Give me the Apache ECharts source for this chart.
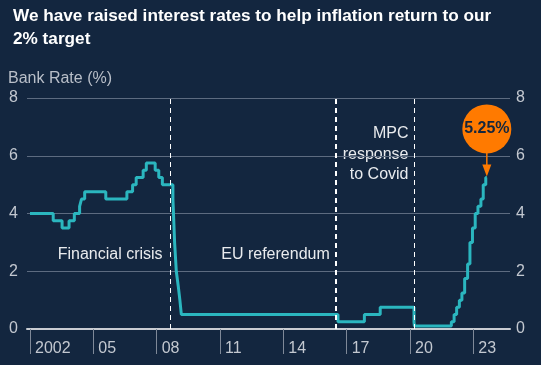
<!DOCTYPE html>
<html>
<head>
<meta charset="utf-8">
<script src="https://cdn.jsdelivr.net/npm/echarts@6/dist/echarts.min.js"></script>
<style>
html,body{margin:0;padding:0;background:#13263f;}
#chart{width:541px;height:365px;}
</style>
</head>
<body>
<div id="chart"></div>
<script>
// Bank Rate change dates (decimal years) and new rate (%)
var rateDates = [2002.00, 2003.10, 2003.52, 2003.85, 2004.10, 2004.35, 2004.44, 2004.59,
  2005.59, 2006.59, 2006.86, 2007.03, 2007.36, 2007.51, 2007.93, 2008.10, 2008.27,
  2008.77, 2008.85, 2008.93, 2009.02, 2009.10, 2009.17, 2016.59, 2017.84, 2018.59,
  2020.19, 2020.21, 2021.96, 2022.09, 2022.21, 2022.34, 2022.46, 2022.59, 2022.73,
  2022.84, 2022.96, 2023.09, 2023.22, 2023.36, 2023.47, 2023.59, 2023.64];
var rateValues = [4.00, 3.75, 3.50, 3.75, 4.00, 4.25, 4.50, 4.75,
  4.50, 4.75, 5.00, 5.25, 5.50, 5.75, 5.50, 5.25, 5.00,
  4.50, 3.00, 2.00, 1.50, 1.00, 0.50, 0.25, 0.50, 0.75,
  0.25, 0.10, 0.25, 0.50, 0.75, 1.00, 1.25, 1.75, 2.25,
  3.00, 3.50, 4.00, 4.25, 4.50, 5.00, 5.25, 5.25];
var xTickYears = [2002, 2005, 2008, 2011, 2014, 2017, 2020, 2023];
var xTickLabels = ['2002', '05', '08', '11', '14', '17', '20', '23'];
var yTicks = [0, 2, 4, 6, 8];
var eventDates = [2008.665, 2016.50, 2020.20];
var eventNames = ['Financial crisis', 'EU referendum', 'MPC\nresponse\nto Covid'];
var latestLabel = '5.25%';

var seriesData = rateDates.map(function (d, i) { return [d, rateValues[i]]; });

var chart = echarts.init(document.getElementById('chart'), null, {renderer: 'canvas'});
var FONT = 'Liberation Sans, Arial, sans-serif';
var labelColor = '#c3c8d0';

var option = {
  backgroundColor: '#13263f',
  animation: false,
  title: {
    text: 'We have raised interest rates to help inflation return to our\n2% target',
    left: 8, top: 0,
    textStyle: {color: '#ffffff', fontSize: 17.2, fontWeight: 'bold', fontFamily: FONT, lineHeight: 23}
  },
  graphic: [{
    type: 'text', left: 8, top: 71,
    style: {text: 'Bank Rate (%)', fill: '#b9bfc9', font: '16px ' + FONT}
  }],
  grid: {left: 27, right: 31, top: 98, bottom: 36},
  xAxis: {
    type: 'value',
    min: 2001.858, max: 2024.738,
    splitLine: {show: false},
    axisLine: {show: true, lineStyle: {color: '#c9ccd2', width: 2}},
    axisTick: {show: true, customValues: xTickYears, length: 25, lineStyle: {color: '#7f8998', width: 1}},
    axisLabel: {
      customValues: xTickYears,
      color: labelColor, fontSize: 16, fontFamily: FONT,
      align: 'left', margin: 12, padding: [0, 0, 0, 5],
      formatter: function (v) {
        var i = xTickYears.indexOf(Math.round(v));
        return i >= 0 ? xTickLabels[i] : '';
      }
    }
  },
  yAxis: [{
    type: 'value', min: 0, max: 8, interval: 2,
    axisLine: {show: false}, axisTick: {show: false},
    splitLine: {lineStyle: {color: '#5d6b80', width: 1}},
    axisLabel: {color: labelColor, fontSize: 16, fontFamily: FONT, margin: 9}
  }, {
    type: 'value', min: 0, max: 8, interval: 2, position: 'right',
    axisLine: {show: false}, axisTick: {show: false}, splitLine: {show: false},
    axisLabel: {color: labelColor, fontSize: 16, fontFamily: FONT, margin: 6}
  }],
  series: [{
    type: 'line',
    data: seriesData,
    step: 'end',
    showSymbol: false,
    lineStyle: {color: '#2bb6bf', width: 3},
    z: 3,
    markLine: {
      silent: true,
      symbol: 'none',
      label: {show: false},
      data: eventDates.map(function (d, i) {
        return {xAxis: d, lineStyle: {color: '#ffffff', type: [5, 4], width: i === 1 ? 2 : 1}};
      })
    }
  }]
};
chart.setOption(option);

// annotations anchored to data positions
var g = [option.graphic[0]];
var textPos = [[2008.28, 2.57], [2016.20, 2.57], [2019.93, 6.05]];
eventNames.forEach(function (name, i) {
  var p = chart.convertToPixel({gridIndex: 0}, textPos[i]);
  g.push({
    type: 'text', x: p[0], y: p[1],
    style: {text: name, fill: '#e9ebee', font: '16px ' + FONT, align: 'right', verticalAlign: 'middle', lineHeight: 20.5}
  });
});
var last = seriesData[seriesData.length - 1];
var lp = chart.convertToPixel({gridIndex: 0}, last);
var cx = lp[0], cy = lp[1] - 48.5;
g.push({type: 'line', shape: {x1: cx, y1: cy + 20, x2: cx, y2: lp[1] - 10}, style: {stroke: '#ff7a00', lineWidth: 1.5}, z: 10});
g.push({type: 'polygon', shape: {points: [[cx - 4.5, lp[1] - 13], [cx + 4.5, lp[1] - 13], [cx, lp[1] - 1]]}, style: {fill: '#ff7a00'}, z: 10});
g.push({type: 'circle', shape: {cx: cx, cy: cy, r: 24.5}, style: {fill: '#ff7a00'}, z: 10});
g.push({type: 'text', x: cx, y: cy, style: {text: latestLabel, fill: '#13263f', font: 'bold 16px ' + FONT, align: 'center', verticalAlign: 'middle'}, z: 11});
chart.setOption({graphic: g});
</script>
</body>
</html>
